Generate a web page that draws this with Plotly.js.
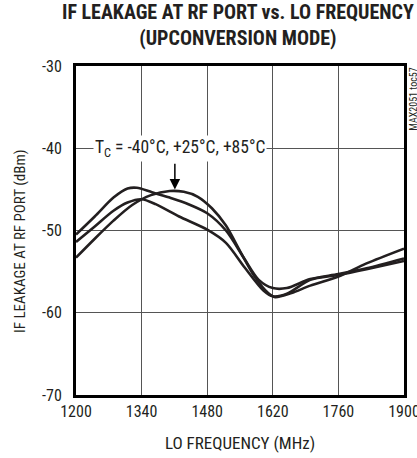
<!DOCTYPE html>
<html>
<head>
<meta charset="utf-8">
<script src="https://cdn.plot.ly/plotly-3.0.1.min.js"></script>
<style>html,body{margin:0;padding:0;background:#fff;}#chart{width:417px;height:458px;}</style>
</head>
<body>
<div id="chart"></div>
<script>
// LO frequency (MHz) and IF leakage (dBm) for three case temperatures
const freqA = [1200,1240,1280,1310,1330,1360,1400,1440,1480,1520,1560,1590,1620,1650,1700,1760,1820,1900];
const leakA = [-50.5,-48.3,-46.0,-44.9,-44.8,-45.3,-46.0,-46.8,-47.9,-50.0,-53.5,-56.0,-57.0,-57.0,-55.9,-55.3,-54.6,-53.4];

const freqB = [1200,1240,1280,1310,1340,1370,1420,1480,1520,1560,1600,1620,1650,1700,1760,1820,1900];
const leakB = [-51.4,-49.5,-47.6,-46.6,-46.2,-46.8,-48.3,-49.9,-51.5,-54.5,-57.3,-58.0,-57.7,-56.0,-55.4,-54.7,-53.7];

const freqC = [1200,1240,1280,1320,1360,1400,1430,1460,1490,1520,1550,1580,1610,1625,1660,1700,1760,1820,1900];
const leakC = [-53.3,-51.0,-48.8,-46.9,-45.7,-45.2,-45.3,-45.9,-47.3,-49.4,-52.5,-55.5,-57.6,-58.1,-57.6,-56.7,-55.6,-54.0,-52.2];

const xTicks = [1200,1340,1480,1620,1760,1900];
const yTicks = [-70,-60,-50,-40,-30];

const titleText = "IF LEAKAGE AT RF PORT vs. LO FREQUENCY<br>(UPCONVERSION MODE)";
const xTitle = "LO FREQUENCY (MHz)";
const yTitle = "IF LEAKAGE AT RF PORT (dBm)";
const labelText = "T<sub>C</sub> = -40°C, +25°C, +85°C";
const watermark = "MAX2051 toc57";

const fam = '"Roboto Condensed", "DejaVu Sans Condensed", sans-serif';
const txt = (size, extra) => Object.assign({family:fam, size:size, color:'#231f20'}, extra || {});
const lineStyle = {color:'#231f20', width:2.6, shape:'spline', smoothing:0.8};

const traces = [
  {x:freqA, y:leakA, mode:'lines', line:lineStyle, hoverinfo:'skip'},
  {x:freqB, y:leakB, mode:'lines', line:lineStyle, hoverinfo:'skip'},
  {x:freqC, y:leakC, mode:'lines', line:lineStyle, hoverinfo:'skip'}
];

const layout = {
  width:417, height:458,
  margin:{l:76, r:13, t:66, b:63},
  paper_bgcolor:'#fff', plot_bgcolor:'#fff',
  showlegend:false,
  xaxis:{range:[1200,1900], tickvals:xTicks, ticktext:xTicks.map(String),
         showgrid:true, gridcolor:'#555', gridwidth:1, zeroline:false,
         showline:true, mirror:true, linecolor:'#000', linewidth:3,
         ticks:'', ticklabeloverflow:'allow', tickfont:txt(16),
         title:{text:xTitle, font:txt(17), standoff:17}},
  yaxis:{range:[-70,-30], tickvals:yTicks, ticktext:yTicks.map(String),
         showgrid:true, gridcolor:'#555', gridwidth:1, zeroline:false,
         showline:true, mirror:true, linecolor:'#000', linewidth:3,
         ticks:'', ticklabelstandoff:8, ticklabeloverflow:'allow', tickfont:txt(16)},
  annotations:[
    {x:0.5, y:1.042, xref:'paper', yref:'paper', xanchor:'center', yanchor:'bottom',
     xshift:-2, text:titleText, showarrow:false,
     font:txt(20, {weight:'bold'})},
    {x:-0.171, y:0.468, xref:'paper', yref:'paper', xanchor:'center', yanchor:'middle',
     text:yTitle, textangle:-90, showarrow:false, font:txt(15)},
    {x:1422, y:-40, xref:'x', yref:'y', text:labelText, showarrow:false,
     bgcolor:'#fff', borderpad:1, font:txt(17.5)},
    {x:1411, y:-45.0, xref:'x', yref:'y', ax:1411, ay:-41.7, axref:'x', ayref:'y',
     text:'', showarrow:true, arrowhead:2, arrowsize:1.4, arrowwidth:1.5, arrowcolor:'#000'},
    {x:1.005, y:1.0, xref:'paper', yref:'paper', text:watermark, showarrow:false,
     textangle:-90, xanchor:'left', yanchor:'top', font:txt(10)}
  ]
};

Plotly.newPlot('chart', traces, layout, {staticPlot:true, displayModeBar:false});
</script>
</body>
</html>
